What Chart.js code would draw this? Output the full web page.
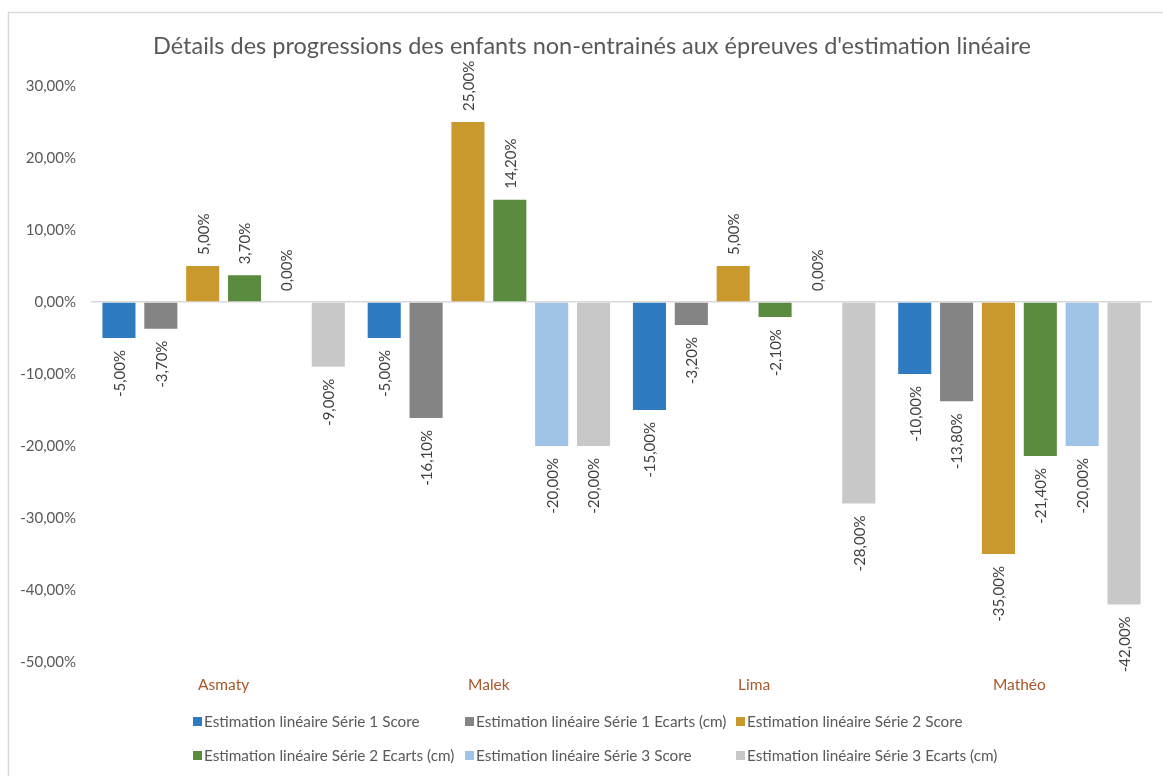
<!DOCTYPE html>
<html lang="fr">
<head>
<meta charset="utf-8">
<script src="https://cdn.jsdelivr.net/npm/chart.js@4/dist/chart.umd.min.js"></script>
<style>
  html, body { margin: 0; padding: 0; background: #ffffff; }
  #wrap { position: relative; width: 1163px; height: 776px; }
  canvas { display: block; }
</style>
</head>
<body>
<div id="wrap"><canvas id="chart" width="1163" height="776"></canvas></div>
<script>
// Enfants (catégories)
const categories = ['Asmaty', 'Malek', 'Lima', 'Mathéo'];

// Noms des séries
const seriesNames = [
  'Estimation linéaire Série 1 Score',
  'Estimation linéaire Série 1 Ecarts (cm)',
  'Estimation linéaire Série 2 Score',
  'Estimation linéaire Série 2 Ecarts (cm)',
  'Estimation linéaire Série 3 Score',
  'Estimation linéaire Série 3 Ecarts (cm)'
];

// Progressions en %
const serie1Score  = [-5.0, -5.0, -15.0, -10.0];
const serie1Ecarts = [-3.7, -16.1, -3.2, -13.8];
const serie2Score  = [5.0, 25.0, 5.0, -35.0];
const serie2Ecarts = [3.7, 14.2, -2.1, -21.4];
const serie3Score  = [0.0, -20.0, 0.0, -20.0];
const serie3Ecarts = [-9.0, -20.0, -28.0, -42.0];

// Graduations de l'axe vertical
const yTicks = [30, 20, 10, 0, -10, -20, -30, -40, -50];

const seriesColors = ['#2E7BC1', '#848484', '#CA992D', '#5A8B3E', '#9EC3E6', '#C8C8C8'];
const seriesValues = [serie1Score, serie1Ecarts, serie2Score, serie2Ecarts, serie3Score, serie3Ecarts];

const FONT = 'Lato, "Open Sans", sans-serif';
const fmt = v => v.toFixed(2).replace('.', ',') + '%';

// Cadre, titre et légende dessinés sur le canevas
const decorPlugin = {
  id: 'decor',
  beforeDraw(chart) {
    const ctx = chart.ctx;
    ctx.save();
    ctx.strokeStyle = '#D9D9D9';
    ctx.lineWidth = 1.5;
    ctx.beginPath();
    ctx.moveTo(8.5, 776);
    ctx.lineTo(8.5, 12.5);
    ctx.lineTo(1163, 12.5);
    ctx.stroke();

    ctx.fillStyle = '#595959';
    ctx.font = '23.5px ' + FONT;
    ctx.textAlign = 'center';
    ctx.textBaseline = 'middle';
    ctx.fillText("Détails des progressions des enfants non-entrainés aux épreuves d'estimation linéaire", 592, 46);
    ctx.restore();
  },
  afterDraw(chart) {
    const ctx = chart.ctx;
    const cols = [193, 465, 736];
    const rows = [722, 756];
    ctx.save();
    ctx.font = '15.3px ' + FONT;
    ctx.textAlign = 'left';
    ctx.textBaseline = 'middle';
    seriesNames.forEach((name, i) => {
      const x = cols[i % 3];
      const y = rows[Math.floor(i / 3)];
      ctx.fillStyle = seriesColors[i];
      ctx.fillRect(x, y - 5, 9, 9);
      ctx.fillStyle = '#595959';
      ctx.fillText(name, x + 11, y);
    });
    ctx.restore();
  }
};

// Étiquettes de valeurs verticales au bout des barres
const valueLabelPlugin = {
  id: 'valueLabels',
  afterDatasetsDraw(chart) {
    const ctx = chart.ctx;
    ctx.save();
    ctx.font = '15px ' + FONT;
    ctx.fillStyle = '#404040';
    ctx.textBaseline = 'middle';
    chart.data.datasets.forEach((ds, di) => {
      const meta = chart.getDatasetMeta(di);
      meta.data.forEach((bar, i) => {
        const v = ds.data[i];
        const txt = fmt(v);
        ctx.save();
        if (v >= 0) {
          ctx.translate(bar.x, bar.y - 11);
          ctx.rotate(-Math.PI / 2);
          ctx.textAlign = 'left';
        } else {
          ctx.translate(bar.x, bar.y + 12);
          ctx.rotate(-Math.PI / 2);
          ctx.textAlign = 'right';
        }
        ctx.fillText(txt, 0, 1);
        ctx.restore();
      });
    });
    ctx.restore();
  }
};

const X_AXIS_H = 40;

new Chart(document.getElementById('chart'), {
  type: 'bar',
  data: {
    labels: categories,
    datasets: seriesNames.map((name, i) => ({
      label: name,
      data: seriesValues[i],
      backgroundColor: seriesColors[i],
      borderWidth: 0,
      categoryPercentage: 0.947,
      barPercentage: 0.79
    }))
  },
  options: {
    responsive: false,
    devicePixelRatio: 1,
    animation: false,
    layout: { padding: { top: 86, right: 11, bottom: 114 - X_AXIS_H, left: 0 } },
    plugins: {
      legend: { display: false },
      title: { display: false },
      tooltip: { enabled: false }
    },
    scales: {
      x: {
        grid: { display: false, drawTicks: false },
        border: { display: false },
        ticks: {
          color: '#A9572A',
          font: { family: FONT, size: 15.5 },
          padding: 14,
          maxRotation: 0
        },
        afterFit(scale) { scale.height = X_AXIS_H; }
      },
      y: {
        min: Math.min(...yTicks),
        max: Math.max(...yTicks),
        afterBuildTicks(scale) { scale.ticks = yTicks.map(v => ({ value: v })); },
        grid: {
          drawTicks: false,
          lineWidth: 1.5,
          color: c => (c.tick && c.tick.value === 0) ? '#D9D9D9' : 'rgba(0,0,0,0)'
        },
        border: { display: false },
        ticks: {
          color: '#595959',
          font: { family: FONT, size: 15 },
          padding: 15,
          callback: v => fmt(v)
        },
        afterFit(scale) { scale.width = 91; }
      }
    }
  },
  plugins: [decorPlugin, valueLabelPlugin]
});
</script>
</body>
</html>
